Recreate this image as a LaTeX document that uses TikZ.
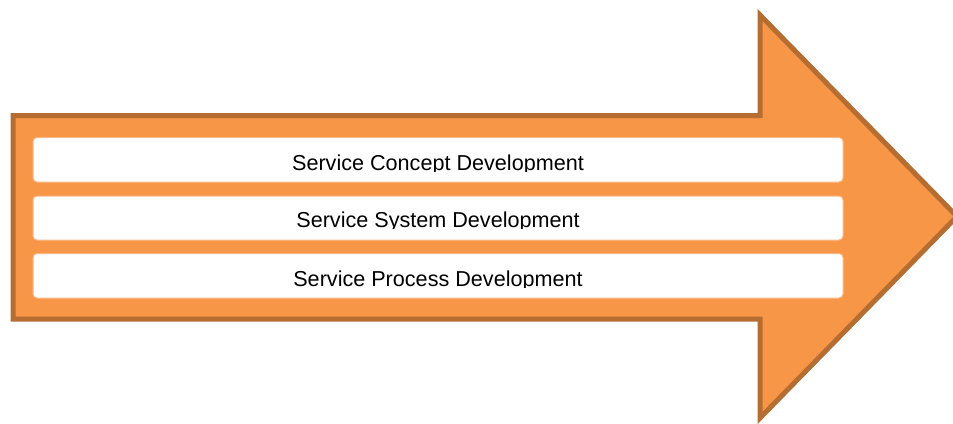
\documentclass[tikz,border=0pt]{standalone}
\usepackage{fontspec}
\setmainfont{Liberation Sans}
\definecolor{arrowfill}{HTML}{F79646}
\definecolor{arrowline}{HTML}{B66D31}
\definecolor{boxline}{HTML}{FAB98A}
\tikzset{
  bigarrow/.style={fill=arrowfill, draw=arrowline, line width=5pt, line join=miter},
  stagebox/.style={fill=white, draw=boxline, line width=1pt, rounded corners=4pt},
  stagelabel/.style={anchor=base, inner sep=0pt, font=\fontsize{21.6}{25}\selectfont, text=black},
}
\begin{document}
\begin{tikzpicture}[x=1pt, y=-1pt]
\useasboundingbox (0,0) rectangle (953,423);
% arrow outline: shaft and head
\draw[bigarrow] (13,115.5) -- (760,115.5) -- (760,15) -- (957,216.5)
  -- (760,418) -- (760,319) -- (13,319) -- cycle;
% three stage bars
\draw[stagebox] (33,137.5) rectangle (843,182) coordinate (b1);
\draw[stagebox] (33,196) rectangle (843,240) coordinate (b2);
\draw[stagebox] (33,253.5) rectangle (843,298) coordinate (b3);
% labels, cut just below the baseline
\begin{scope}
  \clip (33,137.5) rectangle (843,171.8);
  \node[stagelabel] (t1) at (438,170) {Service Concept Development};
\end{scope}
\begin{scope}
  \clip (33,196) rectangle (843,228.8);
  \node[stagelabel] (t2) at (438,227) {Service System Development};
\end{scope}
\begin{scope}
  \clip (33,253.5) rectangle (843,287.8);
  \node[stagelabel] (t3) at (438,286) {Service Process Development};
\end{scope}
\end{tikzpicture}
\end{document}
